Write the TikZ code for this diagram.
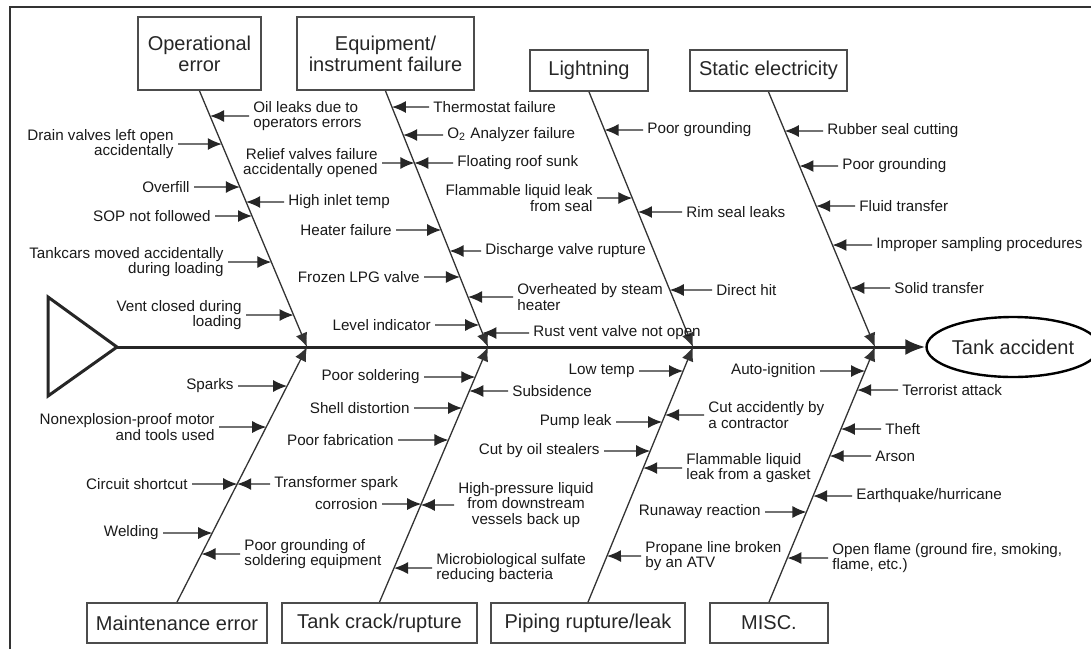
\documentclass[tikz,border=0pt]{standalone}
\usepackage{fontspec}
\setmainfont{Liberation Sans}
\usetikzlibrary{arrows.meta,shapes.geometric}

\newcommand{\causefont}{\fontsize{7.6}{7.9}\selectfont}
\newcommand{\catfont}{\fontsize{10}{10.6}\selectfont}

\begin{document}
\begin{tikzpicture}[
	x=0.5pt, y=-0.5pt,
	cat box/.style={
		draw=black!70,
		line width=0.9pt,
		align=center,
		inner sep=0pt,
		font=\catfont,
		text=black!85
	},
	cause l/.style={anchor=east, align=right, inner sep=2pt, font=\causefont, text=black!90},
	cause r/.style={anchor=west, align=left, inner sep=2pt, font=\causefont, text=black!90},
	bone/.style={->, line width=0.65pt, draw=black!80},
	cause arrow/.style={->, line width=0.65pt, draw=black!85},
	>={Latex[length=7pt,width=6pt]}
	]
	
	\useasboundingbox (0,0) rectangle (1091,649);
	\draw[line width=1pt, black!80] (10,649) -- (10,7) -- (1091,7);
	
	% categories
	\node[cat box, minimum width=61.5pt, minimum height=36.5pt] (op) at (199.5,53.5) {Operational\\error};
	\node[cat box, minimum width=88.5pt, minimum height=36.5pt] (eq) at (385.5,53.5) {Equipment/\\instrument failure};
	\node[cat box, minimum width=59pt, minimum height=20.5pt] (lt) at (589,70.5) {Lightning};
	\node[cat box, minimum width=78.5pt, minimum height=20.5pt] (st) at (768.5,70.5) {Static electricity};
	\node[cat box, minimum width=90pt, minimum height=20pt] (me) at (177,623) {Maintenance error};
	\node[cat box, minimum width=97.5pt, minimum height=20pt] (tc) at (379.5,623) {Tank crack/rupture};
	\node[cat box, minimum width=97pt, minimum height=20pt] (pr) at (588,623) {Piping rupture/leak};
	\node[cat box, minimum width=59pt, minimum height=20pt] (mi) at (769,623) {MISC.};
	
	% head and spine
	\draw[line width=1.5pt, black!85] (48,297) -- (117,347) -- (48,396) -- cycle;
	\coordinate (head) at (117,347);
	\node[draw, ellipse, line width=1.2pt, minimum width=76pt, minimum height=30pt, inner sep=0pt, font=\catfont, text=black!85] (ta) at (1013,347) {Tank accident};
	\draw[line width=1.5pt, black!85, -{Latex[length=10pt,width=8pt]}] (head) -- (ta.west);
	
	\coordinate (j1) at (307,347);
	\coordinate (j2) at (488,347);
	\coordinate (j3) at (693,347);
	\coordinate (j4) at (875,347);
	
	\draw[bone] (op.south) -- (j1);
	\draw[bone] (eq.south) -- (j2);
	\draw[bone] (lt.south) -- (j3);
	\draw[bone] (st.south) -- (j4);
	\draw[bone] (me.north) -- (j1);
	\draw[bone] (tc.north) -- (j2);
	\draw[bone] (pr.north) -- (j3);
	\draw[bone] (mi.north) -- (j4);
	
	% operational error
	\node[cause r] (o1) at (249,116) {Oil leaks due to\\operators errors};
	\node[cause l] (o2) at (178,144) {Drain valves left open\\accidentally};
	\node[cause l] (o3) at (194,187) {Overfill};
	\node[cause r] (o4) at (284,202) {High inlet temp};
	\node[cause l] (o5) at (215,216) {SOP not followed};
	\node[cause l] (o6) at (228,262) {Tankcars moved accidentally\\during loading};
	\node[cause l] (o7) at (246,315) {Vent closed during\\loading};
	\foreach \c in {o2,o3,o5,o6,o7}
		\draw[cause arrow] (\c.east) -- (intersection of op.south--j1 and \c.east--\c.west);
	\foreach \c in {o1,o4}
		\draw[cause arrow] (\c.west) -- (intersection of op.south--j1 and \c.west--\c.east);
	
	% equipment/instrument failure
	\node[cause l] (e1) at (382,163) {Relief valves failure\\accidentally opened};
	\node[cause l] (e2) at (396,230) {Heater failure};
	\node[cause l] (e3) at (424,277) {Frozen LPG valve};
	\node[cause l] (e4) at (435,325) {Level indicator};
	\node[cause r] (e5) at (429,107) {Thermostat failure};
	\node[cause r] (e6) at (443,135) {O\textsubscript{2} Analyzer failure};
	\node[cause r] (e7) at (453,163) {Floating roof sunk};
	\node[cause r] (e8) at (481,251) {Discharge valve rupture};
	\node[cause r] (e9) at (513,297) {Overheated by steam\\heater};
	\node[cause r] (e10) at (529,333) {Rust vent valve not open};
	\foreach \c in {e1,e2,e3,e4}
		\draw[cause arrow] (\c.east) -- (intersection of eq.south--j2 and \c.east--\c.west);
	\foreach \c in {e5,e6,e7,e8,e9,e10}
		\draw[cause arrow] (\c.west) -- (intersection of eq.south--j2 and \c.west--\c.east);
	
	% lightning
	\node[cause r] (l1) at (643,130) {Poor grounding};
	\node[cause l] (l2) at (597,198) {Flammable liquid leak\\from seal};
	\node[cause r] (l3) at (682,212) {Rim seal leaks};
	\node[cause r] (l4) at (712,290) {Direct hit};
	\draw[cause arrow] (l2.east) -- (intersection of lt.south--j3 and l2.east--l2.west);
	\foreach \c in {l1,l3,l4}
		\draw[cause arrow] (\c.west) -- (intersection of lt.south--j3 and \c.west--\c.east);
	
	% static electricity
	\node[cause r] (s1) at (823,131) {Rubber seal cutting};
	\node[cause r] (s2) at (838,166) {Poor grounding};
	\node[cause r] (s3) at (855,206) {Fluid transfer};
	\node[cause r] (s4) at (872,245) {Improper sampling procedures};
	\node[cause r] (s5) at (890,288) {Solid transfer};
	\foreach \c in {s1,s2,s3,s4,s5}
		\draw[cause arrow] (\c.west) -- (intersection of st.south--j4 and \c.west--\c.east);
	
	% maintenance error
	\node[cause l] (m1) at (238,386) {Sparks};
	\node[cause l] (m2) at (219,427) {Nonexplosion-proof motor\\and tools used};
	\node[cause l] (m3) at (192,484) {Circuit shortcut};
	\node[cause r] (m4) at (270,484) {Transformer spark};
	\node[cause l] (m5) at (163,533) {Welding};
	\node[cause r] (m6) at (240,554) {Poor grounding of\\soldering equipment};
	\foreach \c in {m1,m2,m3,m5}
		\draw[cause arrow] (\c.east) -- (intersection of me.north--j1 and \c.east--\c.west);
	\foreach \c in {m4,m6}
		\draw[cause arrow] (\c.west) -- (intersection of me.north--j1 and \c.west--\c.east);
	
	% tank crack/rupture
	\node[cause l] (t1) at (424,377) {Poor soldering};
	\node[cause l] (t2) at (414,408) {Shell distortion};
	\node[cause l] (t3) at (398,440) {Poor fabrication};
	\node[cause l] (t4) at (382,504) {corrosion};
	\node[cause r] (t5) at (508,391) {Subsidence};
	\node[cause r, align=center] (t6) at (454,505) {High-pressure liquid\\from downstream\\vessels back up};
	\node[cause r] (t7) at (432,568) {Microbiological sulfate\\reducing bacteria};
	\foreach \c in {t1,t2,t3,t4}
		\draw[cause arrow] (\c.east) -- (intersection of tc.north--j2 and \c.east--\c.west);
	\foreach \c in {t5,t6,t7}
		\draw[cause arrow] (\c.west) -- (intersection of tc.north--j2 and \c.west--\c.east);
	
	% piping rupture/leak
	\node[cause l] (p1) at (639,371) {Low temp};
	\node[cause l] (p2) at (616,422) {Pump leak};
	\node[cause l] (p3) at (604,451) {Cut by oil stealers};
	\node[cause r] (p4) at (704,415) {Cut accidently by\\a contractor};
	\node[cause r] (p5) at (682,468) {Flammable liquid\\leak from a gasket};
	\node[cause r] (p6) at (641,556) {Propane line broken\\by an ATV};
	\foreach \c in {p1,p2,p3}
		\draw[cause arrow] (\c.east) -- (intersection of pr.north--j3 and \c.east--\c.west);
	\foreach \c in {p4,p5,p6}
		\draw[cause arrow] (\c.west) -- (intersection of pr.north--j3 and \c.west--\c.east);
	
	% misc
	\node[cause l] (i1) at (820,371) {Auto-ignition};
	\node[cause l] (i2) at (765,512) {Runaway reaction};
	\node[cause r] (i3) at (898,390) {Terrorist attack};
	\node[cause r] (i4) at (881,429) {Theft};
	\node[cause r] (i5) at (871,456) {Arson};
	\node[cause r] (i6) at (852,496) {Earthquake/hurricane};
	\node[cause r] (i7) at (828,558) {Open flame (ground fire, smoking,\\flame, etc.)};
	\foreach \c in {i1,i2}
		\draw[cause arrow] (\c.east) -- (intersection of mi.north--j4 and \c.east--\c.west);
	\foreach \c in {i3,i4,i5,i6,i7}
		\draw[cause arrow] (\c.west) -- (intersection of mi.north--j4 and \c.west--\c.east);
	
\end{tikzpicture}
\end{document}
